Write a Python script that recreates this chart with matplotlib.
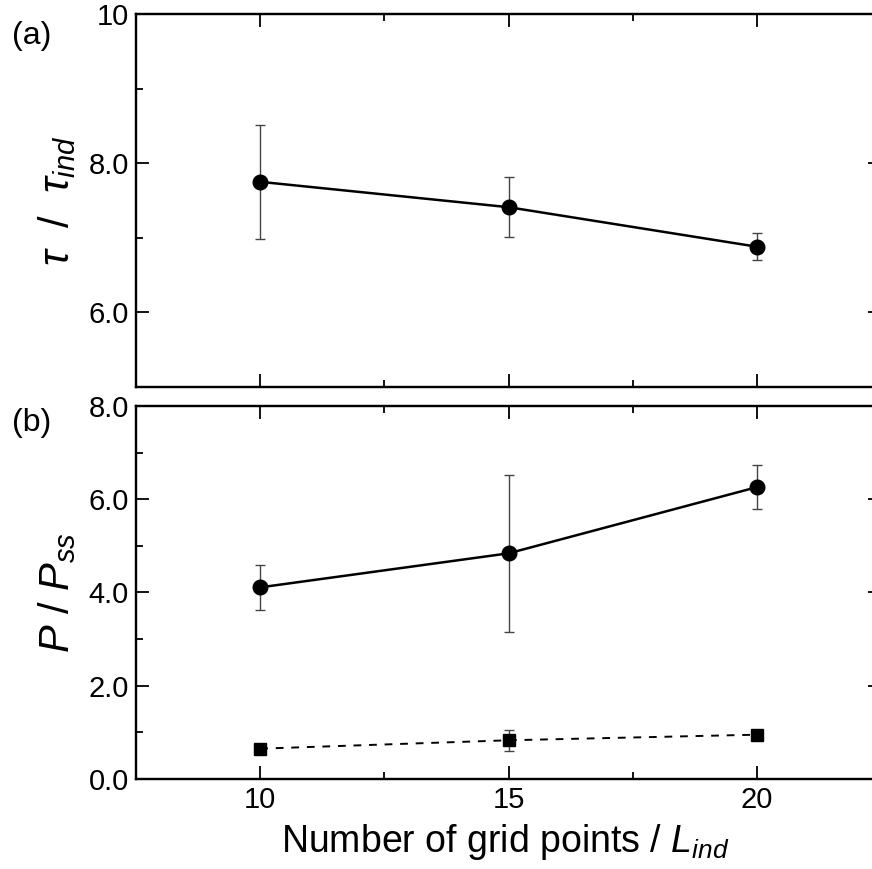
import matplotlib
matplotlib.use('Agg')
import matplotlib.pyplot as plt
from matplotlib.ticker import MultipleLocator, FixedLocator

FONT = ['Liberation Sans', 'DejaVu Sans']
plt.rcParams.update({
    'font.family': FONT,
    'mathtext.fontset': 'custom',
    'mathtext.rm': 'Liberation Sans',
    'mathtext.it': 'Liberation Sans:italic',
    'axes.linewidth': 1.6,
})

# data
grid = [10, 15, 20]
tau = [7.75, 7.41, 6.88]
tau_err = [0.76, 0.40, 0.18]
p_ratio = [4.11, 4.84, 6.26]
p_err = [0.48, 1.68, 0.47]
p_low = [0.65, 0.83, 0.95]
p_low_err = [0.0, 0.22, 0.0]

tau_ticks = [6, 8, 10]
tau_labels = ['6.0', '8.0', '10']
p_ticks = [0, 2, 4, 6, 8]
p_labels = ['0.0', '2.0', '4.0', '6.0', '8.0']

fig = plt.figure(figsize=(8.72, 8.69), dpi=100)
ax1 = fig.add_axes([0.156, 0.5547, 0.846, 0.4292])
ax2 = fig.add_axes([0.156, 0.1036, 0.846, 0.4292])


def style(ax, ylim, ticks, labels):
    ax.set_xlim(7.5, 22.35)
    ax.xaxis.set_major_locator(FixedLocator(grid))
    ax.xaxis.set_minor_locator(MultipleLocator(2.5))
    ax.yaxis.set_major_locator(FixedLocator(ticks))
    ax.yaxis.set_minor_locator(MultipleLocator(1))
    ax.set_yticklabels(labels)
    ax.set_ylim(*ylim)
    ax.tick_params(which='major', direction='in', length=9.5, width=1.3,
                   top=True, labelsize=21, pad=5)
    ax.tick_params(which='minor', direction='in', length=5, width=1.3, top=True)
    # right side: short major ticks only
    tw = ax.twinx()
    tw.set_ylim(*ylim)
    tw.yaxis.set_major_locator(FixedLocator(ticks))
    tw.yaxis.set_minor_locator(FixedLocator([]))
    tw.tick_params(direction='in', length=4.5, width=1.3, labelright=False)


# (a)
ax1.errorbar(grid, tau, yerr=tau_err, fmt='none', ecolor='#444444',
             elinewidth=1.0, capsize=3.3, capthick=1.0, zorder=2)
ax1.plot(grid, tau, '-o', color='black', lw=1.8, ms=10.5, zorder=3)
style(ax1, (5, 10), tau_ticks, tau_labels)
ax1.tick_params(labelbottom=False)
ax1.set_ylabel(r'$\tau$  /  $\tau_{ind}$', fontsize=30)
ax1.yaxis.set_label_coords(-0.078, 0.5)
fig.text(0.014, 0.959, '(a)', fontsize=23, va='center')

# (b)
ax2.errorbar(grid, p_ratio, yerr=p_err, fmt='none', ecolor='#444444',
             elinewidth=1.0, capsize=3.3, capthick=1.0, zorder=2)
ax2.plot(grid, p_ratio, '-o', color='black', lw=1.8, ms=10.5, zorder=3)
ax2.errorbar(grid, p_low, yerr=p_low_err, fmt='none', ecolor='#444444',
             elinewidth=1.0, capsize=3.3, capthick=1.0, zorder=2)
ax2.plot(grid, p_low, '--s', color='black', lw=1.4, ms=9, dashes=(4, 4), zorder=3)
style(ax2, (0, 8), p_ticks, p_labels)
ax2.set_xticklabels([str(g) for g in grid])
ax2.set_ylabel(r'$P$ / $P_{ss}$', fontsize=30)
ax2.yaxis.set_label_coords(-0.078, 0.5)
ax2.set_xlabel(r'Number of grid points / $L_{ind}$', fontsize=27, labelpad=6)
fig.text(0.014, 0.513, '(b)', fontsize=23, va='center')

fig.savefig('out.png', dpi=100)
